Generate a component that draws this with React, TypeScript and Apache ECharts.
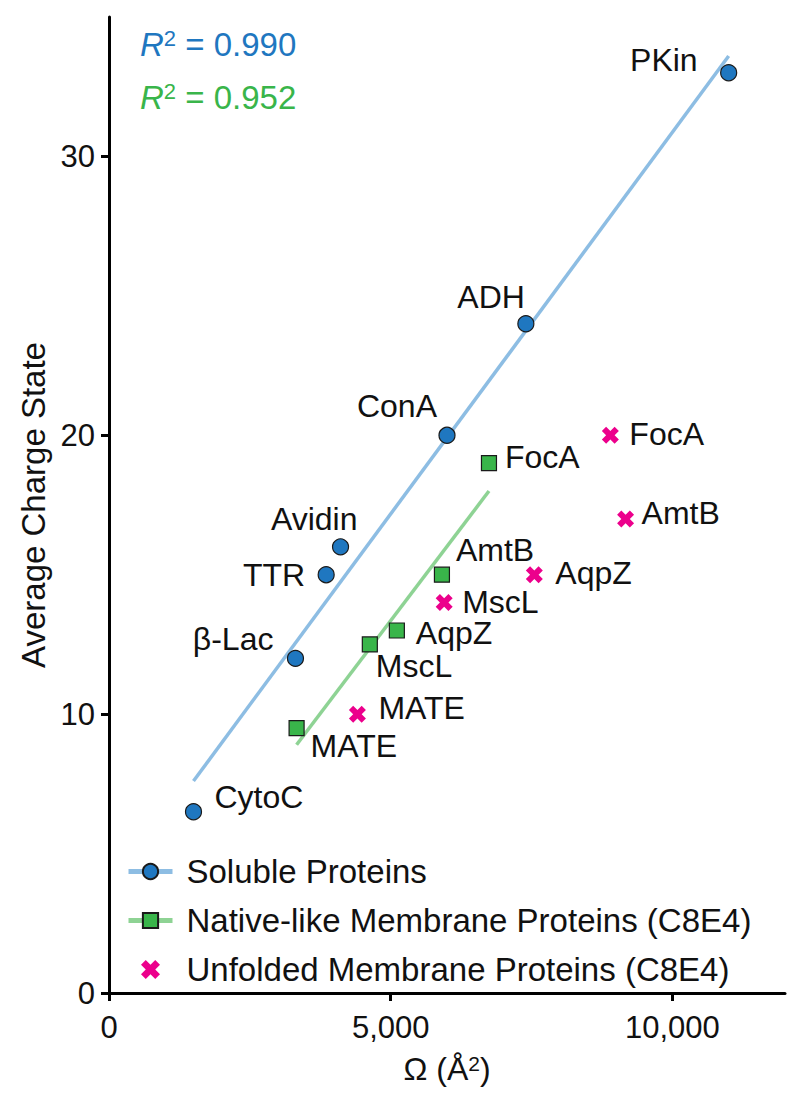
import React, { useEffect, useRef } from "react";
import * as echarts from "echarts";

// ---- data ----
const solubleNames = ["CytoC", "β-Lac", "TTR", "Avidin", "ConA", "ADH", "PKin"];
const solubleX = [1500, 3310, 3855, 4110, 6000, 7400, 11000];
const solubleY = [6.5, 12, 15, 16, 20, 24, 33];

const nativeNames = ["MATE", "MscL", "AqpZ", "AmtB", "FocA"];
const nativeX = [3330, 4630, 5110, 5910, 6745];
const nativeY = [9.5, 12.5, 13, 15, 19];

const unfoldedNames = ["MATE", "MscL", "AqpZ", "AmtB", "FocA"];
const unfoldedX = [4410, 5950, 7550, 9170, 8900];
const unfoldedY = [10, 14, 15, 17, 20];

const solubleFitX = [1500, 11000];
const solubleFitY = [7.6, 33.6];
const nativeFitX = [3330, 6745];
const nativeFitY = [8.9, 18.0];

const xTicks = [0, 5000, 10000];
const yTicks = [0, 10, 20, 30];
const r2Values = ["0.990", "0.952"];
const seriesNames = [
  "Soluble Proteins",
  "Native-like Membrane Proteins (C8E4)",
  "Unfolded Membrane Proteins (C8E4)",
];

// ---- label layout (align, dx, dy from point centre) ----
const solubleLabelLayout: [string, number, number][] = [
  ["left", 21, -15],
  ["right", -22, -19],
  ["right", -21, 0],
  ["right", 17, -28],
  ["right", -10, -29],
  ["right", -1, -27],
  ["right", -31, -13],
];
const nativeLabelLayout: [string, number, number][] = [
  ["left", 14, 18],
  ["left", 6, 22],
  ["left", 19, 3],
  ["left", 14, -25],
  ["left", 16, -6],
];
const unfoldedLabelLayout: [string, number, number][] = [
  ["left", 21, -6],
  ["left", 18, -1],
  ["left", 21, -2],
  ["left", 16, -6],
  ["left", 19, -1],
];

const FONT = "'Liberation Sans', Arial, Helvetica, sans-serif";
const BLUE = "#1f77c0";
const BLUE_LINE = "#8dbde3";
const GREEN = "#39b54a";
const GREEN_LINE = "#8ed394";
const MAGENTA = "#ec008c";
const XSYM =
  "path://M2.5,0 L5,2.5 L7.5,0 L10,2.5 L7.5,5 L10,7.5 L7.5,10 L5,7.5 L2.5,10 L0,7.5 L2.5,5 L0,2.5 Z";

function makePoints(
  names: string[],
  xs: number[],
  ys: number[],
  layout: [string, number, number][]
) {
  return names.map((n, i) => ({
    name: n,
    value: [xs[i], ys[i]],
    label: {
      show: true,
      formatter: n,
      position: "inside",
      align: layout[i][0],
      verticalAlign: "middle",
      offset: [layout[i][1], layout[i][2]],
      color: "#111",
      fontSize: 32,
      fontFamily: FONT,
    },
  }));
}

function fitData(xs: number[], ys: number[]) {
  return xs.map((x, i) => [x, ys[i]]);
}

export default function App() {
  const ref = useRef<HTMLDivElement>(null);
  useEffect(() => {
    if (!ref.current) return;
    const chart = echarts.init(ref.current, undefined, { renderer: "svg" });
    const r2Rich = (color: string) => ({
      r: { fontStyle: "italic", fontSize: 33, fontFamily: FONT, fill: color, color },
      s: { fontSize: 22, fontFamily: FONT, verticalAlign: "top", fill: color, color },
      t: { fontSize: 33, fontFamily: FONT, fill: color, color },
    });
    const option: any = {
      animation: false,
      backgroundColor: "#fff",
      grid: { left: 109, right: 15, top: 17, bottom: 110, containLabel: false },
      xAxis: {
        type: "value",
        min: 0,
        max: 12000,
        interval: 5000,
        name: "{a|Ω (Å}{s|2}{a|)}",
        nameLocation: "middle",
        nameGap: 60,
        nameTextStyle: {
          color: "#111",
          fontFamily: FONT,
          fontSize: 32,
          rich: {
            a: { fontSize: 32, fontFamily: FONT, color: "#111" },
            s: { fontSize: 21, fontFamily: FONT, color: "#111", verticalAlign: "top" },
          },
        },
        axisLine: { show: true, lineStyle: { color: "#000", width: 3 } },
        axisTick: {
          show: true,
          length: 8,
          lineStyle: { color: "#000", width: 3 },
          customValues: xTicks,
        },
        axisLabel: {
          color: "#111",
          fontSize: 31,
          fontFamily: FONT,
          margin: 19,
          customValues: xTicks,
          formatter: (v: number) => v.toLocaleString("en-US"),
        },
        splitLine: { show: false },
      },
      yAxis: {
        type: "value",
        min: 0,
        max: 35,
        interval: 10,
        name: "Average Charge State",
        nameLocation: "middle",
        nameGap: 43,
        nameTextStyle: { color: "#111", fontFamily: FONT, fontSize: 33 },
        axisLine: { show: true, lineStyle: { color: "#000", width: 3 } },
        axisTick: {
          show: true,
          length: 8,
          lineStyle: { color: "#000", width: 3 },
          customValues: yTicks,
        },
        axisLabel: {
          color: "#111",
          fontSize: 31,
          fontFamily: FONT,
          margin: 14,
          customValues: yTicks,
        },
        splitLine: { show: false },
      },
      legend: {
        orient: "vertical",
        left: 121,
        top: 850,
        itemWidth: 44,
        itemHeight: 19,
        itemGap: 16,
        data: seriesNames,
        lineStyle: { width: 5 },
        textStyle: {
          color: "#111",
          fontSize: 33,
          fontFamily: FONT,
          padding: [0, 0, 0, 9],
        },
      },
      graphic: r2Values.map((v, i) => ({
        type: "text",
        x: 140,
        y: 44 + i * 53,
        style: {
          text: `{r|R}{s|2}{t| = ${v}}`,
          rich: r2Rich(i === 0 ? BLUE : GREEN),
          verticalAlign: "middle",
          align: "left",
          fill: i === 0 ? BLUE : GREEN,
          font: `33px ${FONT}`,
        },
      })),
      series: [
        {
          name: seriesNames[0],
          type: "line",
          data: fitData(solubleFitX, solubleFitY),
          showSymbol: false,
          symbol: "circle",
          itemStyle: { color: BLUE, borderColor: "#1a1a1a", borderWidth: 1.2 },
          lineStyle: { color: BLUE_LINE, width: 3.5 },
          silent: true,
          z: 1,
        },
        {
          name: seriesNames[1],
          type: "line",
          data: fitData(nativeFitX, nativeFitY),
          showSymbol: false,
          symbol: "rect",
          itemStyle: { color: GREEN, borderColor: "#1a1a1a", borderWidth: 1.2 },
          lineStyle: { color: GREEN_LINE, width: 3.5 },
          silent: true,
          z: 1,
        },
        {
          name: seriesNames[0],
          type: "scatter",
          symbol: "circle",
          symbolSize: 16,
          itemStyle: { color: BLUE, borderColor: "#1a1a1a", borderWidth: 1.2, opacity: 1 },
          data: makePoints(solubleNames, solubleX, solubleY, solubleLabelLayout),
          z: 3,
        },
        {
          name: seriesNames[1],
          type: "scatter",
          symbol: "rect",
          symbolSize: 15,
          itemStyle: { color: GREEN, borderColor: "#1a1a1a", borderWidth: 1.2, opacity: 1 },
          data: makePoints(nativeNames, nativeX, nativeY, nativeLabelLayout),
          z: 3,
        },
        {
          name: seriesNames[2],
          type: "scatter",
          symbol: XSYM,
          symbolSize: 17,
          itemStyle: { color: MAGENTA, opacity: 1 },
          data: makePoints(unfoldedNames, unfoldedX, unfoldedY, unfoldedLabelLayout),
          z: 3,
        },
      ],
    };
    chart.setOption(option);
    return () => chart.dispose();
  }, []);
  return <div ref={ref} style={{ width: 800, height: 1103, margin: -8 }} />;
}
